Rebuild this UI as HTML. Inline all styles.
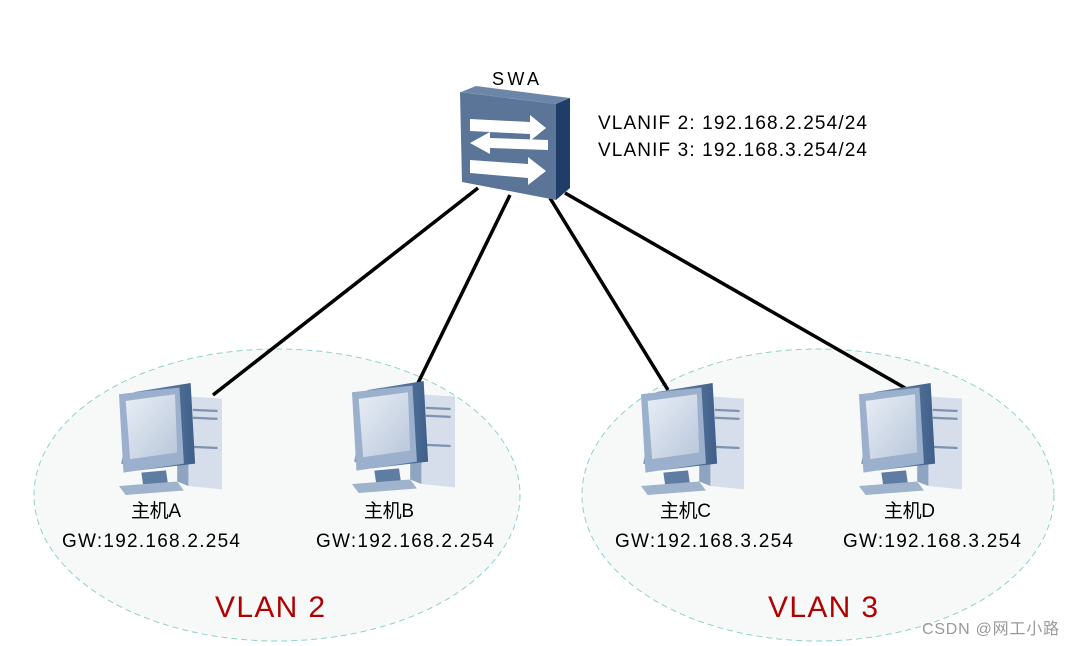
<!DOCTYPE html>
<html><head><meta charset="utf-8"><style>
html,body{margin:0;padding:0;background:#fff;}
svg{display:block;}
text{font-family:"Liberation Sans","Noto Sans CJK SC",sans-serif;}
</style></head><body>
<svg width="1075" height="646" viewBox="0 0 1075 646" xmlns="http://www.w3.org/2000/svg">
<defs>
<linearGradient id="scr" x1="0" y1="0" x2="1" y2="1"><stop offset="0" stop-color="#e8eef6"/><stop offset="1" stop-color="#b9c7da"/></linearGradient>
<linearGradient id="mon" x1="0" y1="0" x2="1" y2="0"><stop offset="0" stop-color="#7f98ba"/><stop offset="1" stop-color="#3f5f8a"/></linearGradient>
<g id="pc">
  <polygon points="70,12 100,14 100,95 70,92" fill="#d5deea"/>
  <polygon points="60,10 70,12 70,92 60,88" fill="#8ea4c0"/>
  <line x1="74" y1="24" x2="96" y2="25" stroke="#7d93b0" stroke-width="2"/>
  <line x1="74" y1="31" x2="96" y2="32" stroke="#7d93b0" stroke-width="2"/>
  <line x1="74" y1="57" x2="96" y2="58" stroke="#7d93b0" stroke-width="2"/>
  <polygon points="22,8 72,0 76,72 26,78 10,72" fill="url(#mon)"/>
  <polygon points="8,10 62,4 66,72 12,80" fill="#9bb0cc"/>
  <polygon points="14,16 58,10 60,62 18,68" fill="url(#scr)"/>
  <polygon points="28,80 50,78 52,92 30,94" fill="#5f7ca3"/>
  <polygon points="8,92 60,88 66,96 14,100" fill="#9fb3cd"/>
</g>
</defs>

<ellipse cx="277" cy="495" rx="243" ry="146" fill="#f7f9f9" stroke="#8fd0cc" stroke-dasharray="6,4" stroke-width="1"/>
<ellipse cx="818" cy="495" rx="236" ry="146" fill="#f7f9f9" stroke="#8fd0cc" stroke-dasharray="6,4" stroke-width="1"/>

<g stroke="#000" stroke-width="3.5">
<line x1="478" y1="188" x2="213" y2="395"/>
<line x1="510" y1="195" x2="418" y2="383"/>
<line x1="550" y1="198" x2="668" y2="390"/>
<line x1="565" y1="193" x2="905" y2="388"/>
</g>

<polygon points="461,92 476,86 570,98 556,104" fill="#6d86a8"/>
<polygon points="556,104 570,98 570,188 556,200" fill="#1f3d66"/>
<polygon points="460,92 556,104 556,200 462,182" fill="#5b7598"/>
<g fill="#fff">
<polygon points="470,119 530,122 530,115 546,128 530,141 530,134 470,131"/>
<polygon points="548,150 490,148 490,154 470,143 490,132 490,138 548,140"/>
<polygon points="470,160 528,164 528,157 546,171 528,185 528,178 470,173"/>
</g>

<text x="492" y="85" font-size="18" textLength="47" fill="#000">SWA</text>
<text x="598" y="129" font-size="19" textLength="269" fill="#000">VLANIF 2: 192.168.2.254/24</text>
<text x="598" y="156" font-size="19" textLength="269" fill="#000">VLANIF 3: 192.168.3.254/24</text>

<g transform="translate(110,383) scale(1.12)"><use href="#pc"/></g>
<g transform="translate(343,381) scale(1.12)"><use href="#pc"/></g>
<g transform="translate(632,383) scale(1.12)"><use href="#pc"/></g>
<g transform="translate(850,383) scale(1.12)"><use href="#pc"/></g>

<g font-size="19" fill="#000">
<text x="131" y="517" textLength="50">主机A</text>
<text x="62" y="547" textLength="178">GW:192.168.2.254</text>
<text x="364" y="517" textLength="50">主机B</text>
<text x="316" y="547" textLength="178">GW:192.168.2.254</text>
<text x="660" y="517" textLength="51">主机C</text>
<text x="615" y="547" textLength="178">GW:192.168.3.254</text>
<text x="884" y="517" textLength="51">主机D</text>
<text x="843" y="547" textLength="178">GW:192.168.3.254</text>
</g>
<text x="215" y="617" font-size="30" textLength="110" fill="#b00000">VLAN 2</text>
<text x="768" y="617" font-size="30" textLength="110" fill="#b00000">VLAN 3</text>
<text x="922" y="634" font-size="16" textLength="137" fill="#999">CSDN @网工小路</text>
</svg>
</body></html>
